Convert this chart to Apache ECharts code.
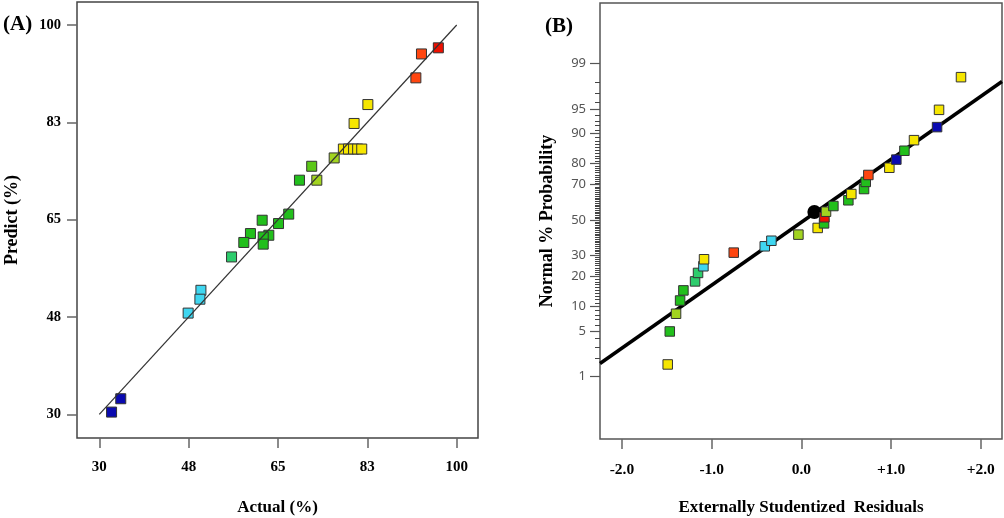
<!DOCTYPE html>
<html>
<head>
<meta charset="utf-8">
<script src="https://cdn.jsdelivr.net/npm/echarts@6/dist/echarts.min.js"></script>
<style>
  html, body { margin: 0; padding: 0; background: #fff; }
  #chart { width: 1004px; height: 518px; }
</style>
</head>
<body>
<div id="chart"></div>
<script>
// ---------- Panel A data: Actual vs Predicted (%) ----------
const aActual  = [96.4, 93.1, 92.0, 82.6, 79.9, 77.8, 78.8, 79.8, 80.6, 81.4, 76.0, 71.6, 69.2, 72.6, 67.1, 61.9, 65.1, 59.6, 63.2, 62.1, 58.3, 62.1, 55.9, 49.9, 49.7, 47.4, 34.2, 32.4];
const aPredict = [95.9, 94.8, 90.5, 85.7, 82.3, 77.7, 77.7, 77.7, 77.7, 77.7, 76.1, 74.6, 72.1, 72.1, 66.0, 64.9, 64.3, 62.5, 62.2, 61.9, 60.9, 60.6, 58.3, 52.3, 50.7, 48.2, 32.8, 30.4];
const aLineX = [30, 100];
const aLineY = [30, 100];
const aTickValues = [30, 47.5, 65, 82.5, 100];
const aTickLabels = ['30', '48', '65', '83', '100'];

// ---------- Panel B data: normal probability plot of residuals ----------
const bResid = [-1.490, -1.467, -1.397, -1.352, -1.315, -1.185, -1.152, -1.092, -1.085, -0.754, -0.408, -0.334, -0.033, 0.182, 0.253, 0.257, 0.275, 0.357, 0.524, 0.557, 0.699, 0.718, 0.747, 0.981, 1.059, 1.149, 1.256, 1.513, 1.535, 1.780];
const bProb  = [1.6, 4.9, 8.2, 11.6, 14.8, 18.1, 21.6, 24.6, 28.0, 31.4, 34.8, 37.9, 41.4, 45.3, 48.0, 51.6, 54.9, 58.2, 61.5, 65.0, 67.7, 71.4, 74.8, 78.1, 81.5, 84.8, 88.2, 91.6, 94.9, 98.3];
const bResp  = [80, 62, 74, 59, 65, 56, 55, 50, 82, 92, 49, 48, 76, 79, 62, 96, 73, 63, 61, 81, 64, 66, 93, 80, 33, 67, 83, 32, 80, 81];
const bCentroid = [0.145, 54.7];
const bLineX = [-2.245, 2.237];
const bLineP = [1.66, 98.01];
const bXTickValues = [-2, -1, 0, 1, 2];
const bXTickLabels = ['-2.0', '-1.0', '0.0', '+1.0', '+2.0'];
const bYMajor = [1, 5, 10, 20, 30, 50, 70, 80, 90, 95, 99];
const bYMajorLabels = ['1', '5', '10', '20', '30', '50', '70', '80', '90', '95', '99'];
const bYMinorFrom = 1, bYMinorTo = 99;   // minor ticks at every whole percent

// normal probability scale (probit) used by panel B's y axis
function probit(p) {
  const a = [-3.969683028665376e+01, 2.209460984245205e+02, -2.759285104469687e+02, 1.383577518672690e+02, -3.066479806614716e+01, 2.506628277459239e+00];
  const b = [-5.447609879822406e+01, 1.615858368580409e+02, -1.556989798598866e+02, 6.680131188771972e+01, -1.328068155288572e+01];
  const c = [-7.784894002430293e-03, -3.223964580411365e-01, -2.400758277161838e+00, -2.549732539343734e+00, 4.374664141464968e+00, 2.938163982698783e+00];
  const d = [7.784695709041462e-03, 3.224671290700398e-01, 2.445134137142996e+00, 3.754408661907416e+00];
  const plow = 0.02425, phigh = 1 - plow;
  let q, r;
  if (p < plow) {
    q = Math.sqrt(-2 * Math.log(p));
    return (((((c[0]*q+c[1])*q+c[2])*q+c[3])*q+c[4])*q+c[5]) / ((((d[0]*q+d[1])*q+d[2])*q+d[3])*q+1);
  } else if (p <= phigh) {
    q = p - 0.5; r = q*q;
    return (((((a[0]*r+a[1])*r+a[2])*r+a[3])*r+a[4])*r+a[5])*q / (((((b[0]*r+b[1])*r+b[2])*r+b[3])*r+b[4])*r+1);
  } else {
    q = Math.sqrt(-2 * Math.log(1 - p));
    return -(((((c[0]*q+c[1])*q+c[2])*q+c[3])*q+c[4])*q+c[5]) / ((((d[0]*q+d[1])*q+d[2])*q+d[3])*q+1);
  }
}
const z = pct => probit(pct / 100);

function nearestLabel(v, values, labels) {
  let best = 0, bd = Infinity;
  values.forEach((t, i) => { const dd = Math.abs(t - v); if (dd < bd) { bd = dd; best = i; } });
  return labels[best];
}

const bXMin = -2.245, bXMax = 2.237;
const bYMajorZ = bYMajor.map(z);
const bYMinorZ = [];
for (let k = bYMinorFrom; k <= bYMinorTo; k++) { if (bYMajor.indexOf(k) < 0) bYMinorZ.push(z(k)); }

const serif = '"Liberation Serif", "Times New Roman", serif';
const bold = { fontFamily: serif, fontWeight: 'bold', color: '#000' };

const colorPieces = [
  { lt: 40, color: '#0a0ab0' },
  { gte: 40, lt: 53, color: '#3fd6f0' },
  { gte: 53, lt: 57.5, color: '#2dcc6c' },
  { gte: 57.5, lt: 70, color: '#22bf1c' },
  { gte: 70, lt: 72, color: '#5cc818' },
  { gte: 72, lt: 77, color: '#a2d420' },
  { gte: 77, lt: 90, color: '#f6e600' },
  { gte: 90, lt: 95, color: '#ff4610' },
  { gte: 95, color: '#ee1000' }
];

const chart = echarts.init(document.getElementById('chart'), null, { renderer: 'canvas' });

const option = {
  backgroundColor: '#fff',
  animation: false,
  title: [
    { text: '(A)', left: 3, top: 14, padding: 0, textStyle: Object.assign({ fontSize: 21 }, bold) },
    { text: '(B)', left: 545, top: 16, padding: 0, textStyle: Object.assign({ fontSize: 21 }, bold) }
  ],
  grid: [
    { left: 77, top: 2, width: 401, height: 436, show: true, borderColor: '#444', borderWidth: 1.5, backgroundColor: '#fff', containLabel: false, outerBoundsMode: 'none' },
    { left: 600, top: 3, width: 402, height: 436, show: true, borderColor: '#555', borderWidth: 1.5, backgroundColor: '#fff', containLabel: false, outerBoundsMode: 'none' }
  ],
  visualMap: [
    { type: 'piecewise', show: false, seriesIndex: 0, dimension: 0, pieces: colorPieces },
    { type: 'piecewise', show: false, seriesIndex: 3, dimension: 2, pieces: colorPieces }
  ],
  xAxis: [
    {
      gridIndex: 0, type: 'value', min: 25.63, max: 104.17, position: 'bottom',
      name: 'Actual (%)', nameLocation: 'middle', nameGap: 61,
      nameTextStyle: Object.assign({ fontSize: 17 }, bold),
      axisLine: { show: false, onZero: false },
      splitLine: { show: false },
      axisTick: { show: true, inside: false, length: 10, interval: 0, customValues: aTickValues, lineStyle: { color: '#666', width: 1.5 } },
      axisLabel: { margin: 22, interval: 0, customValues: aTickValues, fontSize: 15, fontFamily: serif, fontWeight: 'bold', color: '#000',
        formatter: v => nearestLabel(v, aTickValues, aTickLabels) }
    },
    {
      gridIndex: 1, type: 'value', min: bXMin, max: bXMax, position: 'bottom',
      name: 'Externally Studentized  Residuals', nameLocation: 'middle', nameGap: 60,
      nameTextStyle: Object.assign({ fontSize: 17 }, bold),
      axisLine: { show: false, onZero: false },
      splitLine: { show: false },
      axisTick: { show: true, inside: false, length: 10, interval: 0, customValues: bXTickValues, lineStyle: { color: '#666', width: 1.5 } },
      axisLabel: { margin: 23, interval: 0, customValues: bXTickValues, fontSize: 15.5, fontFamily: serif, fontWeight: 'bold', color: '#000',
        formatter: v => nearestLabel(v, bXTickValues, bXTickLabels) }
    }
  ],
  yAxis: [
    {
      gridIndex: 0, type: 'value', min: 25.74, max: 104.14, position: 'left',
      name: 'Predict (%)', nameLocation: 'middle', nameGap: 56,
      nameTextStyle: Object.assign({ fontSize: 18 }, bold),
      axisLine: { show: false, onZero: false },
      splitLine: { show: false },
      axisTick: { show: true, inside: false, length: 10, interval: 0, customValues: aTickValues, lineStyle: { color: '#666', width: 1.5 } },
      axisLabel: { margin: 16, interval: 0, customValues: aTickValues, fontSize: 14.5, fontFamily: serif, fontWeight: 'bold', color: '#000',
        formatter: v => nearestLabel(v, aTickValues, aTickLabels) }
    },
    {
      gridIndex: 1, type: 'value', min: -3.251, max: 3.221, position: 'left',
      name: 'Normal % Probability', nameLocation: 'middle', nameGap: 44,
      nameTextStyle: Object.assign({ fontSize: 18 }, bold),
      axisLine: { show: false, onZero: false },
      splitLine: { show: false },
      axisTick: { show: true, inside: false, length: 10, interval: 0, customValues: bYMajorZ, lineStyle: { color: '#555', width: 1.2 } },
      axisLabel: { margin: 14, interval: 0, hideOverlap: false, customValues: bYMajorZ, fontSize: 13, fontFamily: '"Noto Sans", "DejaVu Sans", sans-serif', color: '#555',
        formatter: v => nearestLabel(v, bYMajorZ, bYMajorLabels) }
    }
  ],
  series: [
    {
      name: 'A points', type: 'scatter', xAxisIndex: 0, yAxisIndex: 0, z: 2,
      symbol: 'rect', symbolSize: 10,
      itemStyle: { borderColor: '#333', borderWidth: 1, opacity: 1 },
      data: aActual.map((v, i) => [v, aPredict[i]])
    },
    {
      name: 'A line', type: 'line', xAxisIndex: 0, yAxisIndex: 0, z: 3,
      symbol: 'none', silent: true,
      lineStyle: { color: '#333', width: 1.2 },
      data: aLineX.map((v, i) => [v, aLineY[i]])
    },
    {
      name: 'B line', type: 'line', xAxisIndex: 1, yAxisIndex: 1, z: 2,
      symbol: 'none', silent: true,
      lineStyle: { color: '#000', width: 3.5 },
      data: bLineX.map((v, i) => [v, z(bLineP[i])])
    },
    {
      name: 'B points', type: 'scatter', xAxisIndex: 1, yAxisIndex: 1, z: 4,
      symbol: 'rect', symbolSize: 9.5,
      itemStyle: { borderColor: '#333', borderWidth: 1, opacity: 1 },
      data: bResid.map((v, i) => [v, z(bProb[i]), bResp[i]])
    },
    {
      name: 'B centroid', type: 'scatter', xAxisIndex: 1, yAxisIndex: 1, z: 3,
      symbol: 'circle', symbolSize: 14,
      itemStyle: { color: '#000', opacity: 1 },
      data: [[bCentroid[0], z(bCentroid[1])]]
    },
    {
      name: 'B minor ticks', type: 'custom', xAxisIndex: 1, yAxisIndex: 1, z: 5,
      silent: true, clip: false,
      data: bYMinorZ.map(v => [bXMin, v]),
      renderItem: (params, api) => {
        const p = api.coord([api.value(0), api.value(1)]);
        return {
          type: 'line',
          shape: { x1: p[0] - 5, y1: Math.round(p[1]) + 0.5, x2: p[0], y2: Math.round(p[1]) + 0.5 },
          style: { stroke: '#444', lineWidth: 1 }
        };
      }
    }
  ]
};

chart.setOption(option);
</script>
</body>
</html>
